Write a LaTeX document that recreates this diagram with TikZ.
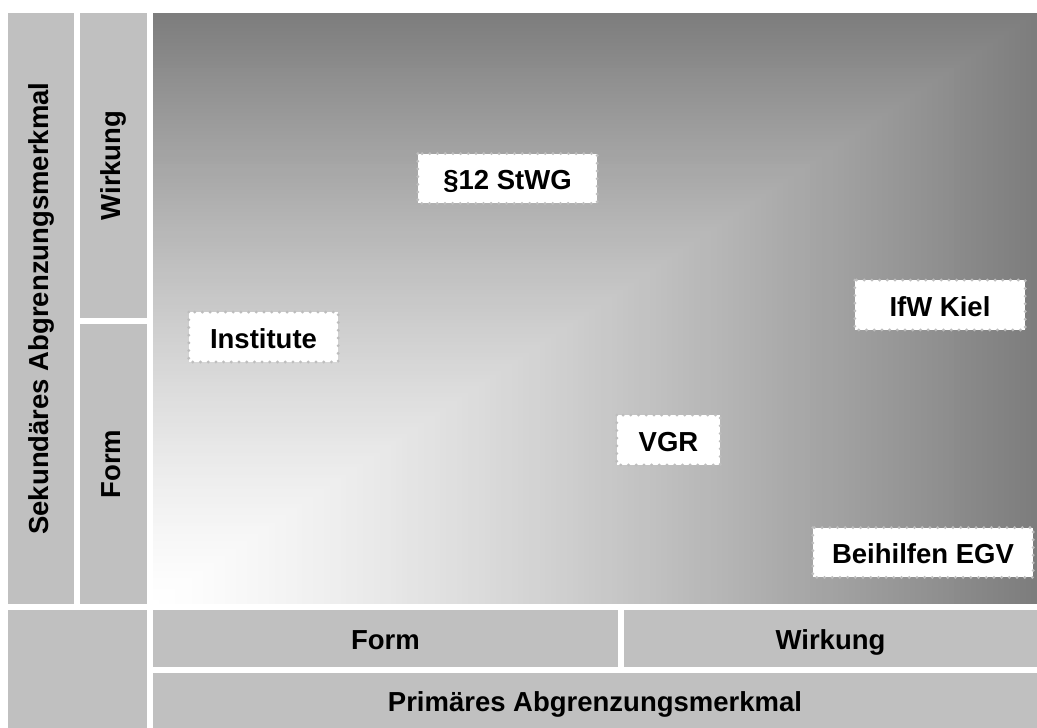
\documentclass[tikz,border=0pt]{standalone}
\usepackage{fontspec}
\setmainfont{Liberation Sans}
\usetikzlibrary{decorations.markings}
\definecolor{stripgray}{HTML}{C0C0C0}
\definecolor{dotgray}{HTML}{BDBDBD}
\begin{document}
\begin{tikzpicture}[x=1pt,y=-1pt,
  txt/.style={font=\bfseries\fontsize{27.5}{33}\selectfont},
  vtxt/.style={txt, text height=20pt, text depth=6pt},
  htxt/.style={txt, text height=24pt, text depth=1.3pt},
  strip/.style={fill=stripgray, inner sep=0pt, outer sep=0pt},
  lbl/.style={htxt, fill=white, minimum height=49.5pt, inner sep=0pt},
  dotframe/.style={decoration={markings,
      mark=between positions 0 and 1 step 7.7pt with {\fill[dotgray] (0,0) circle (1.6pt);}},
      decorate}]
\useasboundingbox (0,0) rectangle (1037,728);
% gradient field (rectangular gradient from bottom-left corner)
\foreach \i in {0,...,159}{
  \pgfmathsetmacro\tt{1-\i/160}
  \pgfmathsetmacro\gl{1-0.51*(\tt^1.3)}
  \definecolor{gcol}{gray}{\gl}
  \fill[gcol] (153,604) rectangle ({153+884*\tt},{604-591*\tt});
}
% left strips
\node[strip, vtxt, rotate=90, minimum width=591pt, minimum height=66pt] (sek) at (41,308.5) {Sekundäres Abgrenzungsmerkmal};
\node[strip, vtxt, rotate=90, minimum width=305pt, minimum height=67pt] (wl) at (113.5,165.5) {Wirkung};
\node[strip, vtxt, rotate=90, minimum width=280pt, minimum height=67pt] (fl) at (113.5,464) {Form};
% bottom strips
\node[strip, minimum width=139pt, minimum height=118pt] (corner) at (77.5,669) {};
\node[strip, htxt, minimum width=465pt, minimum height=57pt] (fb) at (385.5,638.5) {Form};
\node[strip, htxt, minimum width=413pt, minimum height=57pt] (wb) at (830.5,638.5) {Wirkung};
\node[strip, htxt, minimum width=884pt, minimum height=55pt] (prim) at (595,700.5) {Primäres Abgrenzungsmerkmal};
% labels
\node[lbl, minimum width=179pt] (stwg) at (507.5,178.5) {§12 StWG};
\node[lbl, minimum width=149pt] (inst) at (263.5,337) {Institute};
\node[lbl, minimum width=170pt] (ifw) at (940,305) {IfW Kiel};
\node[lbl, minimum width=103pt] (vgr) at (668.5,440) {VGR};
\node[lbl, minimum width=220pt] (egv) at (923,552.5) {Beihilfen EGV};
\foreach \n in {stwg,inst,ifw,vgr,egv}{
  \path[dotframe] (\n.north west) rectangle (\n.south east);
}
\end{tikzpicture}
\end{document}
